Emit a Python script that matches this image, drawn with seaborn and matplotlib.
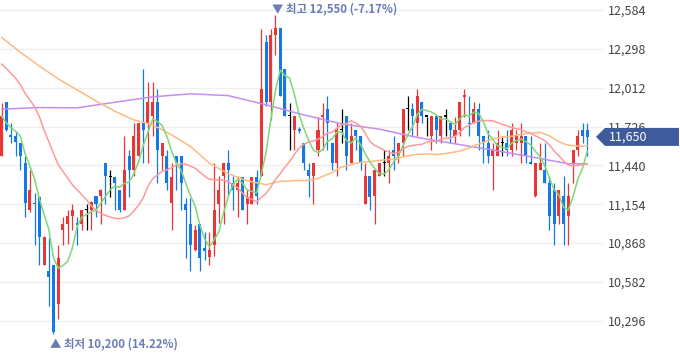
import numpy as np
import pandas as pd
import matplotlib
matplotlib.use("Agg")
import matplotlib.pyplot as plt
import seaborn as sns
from matplotlib.patches import Polygon
from matplotlib.transforms import blended_transform_factory

# ---------------- data ----------------
opens = [11506, 11905, 11665, 11658, 11604, 11457, 11109, 11163, 11207, 10710,
         10661, 10710, 10416, 10962, 11011, 11065, 11016, 11011, 11109, 11114,
         11212, 11212, 11457, 11354, 11354, 11261, 11109, 11506, 11408, 11506,
         11751, 11751, 11805, 11905, 11506, 11506, 11163, 11506, 11506, 11158,
         11011, 10815, 11011, 10832, 10766, 10857, 11158, 11359, 11457, 11310,
         11261, 11354, 11158, 11158, 11354, 11359, 12346, 11905, 12400, 12449,
         12150, 11805, 11702, 11709, 11604, 11408, 11359, 11555, 11800, 11854,
         11604, 11457, 11702, 11805, 11457, 11702, 11653, 11158, 11359, 11212,
         11359, 11457, 11457, 11555, 11506, 11604, 11854, 11854, 11756, 11905,
         11800, 11653, 11805, 11653, 11800, 11751, 11653, 11702, 11947, 11756,
         11756, 11854, 11653, 11604, 11506, 11506, 11604, 11604, 11555, 11604,
         11604, 11653, 11462, 11212, 11408, 11408, 11310, 11261, 11065, 11212,
         11065, 11457, 11555, 11702, 11702]
highs = [11898, 11905, 11751, 11697, 11604, 11506, 11403, 11237, 11207, 10920,
         10906, 10710, 10857, 11058, 11109, 11158, 11058, 11109, 11158, 11175,
         11212, 11265, 11457, 11408, 11354, 11261, 11653, 11555, 11751, 11751,
         12150, 12052, 12052, 12001, 11604, 11555, 11457, 11506, 11506, 11200,
         11200, 11004, 11011, 10952, 10952, 11457, 11359, 11457, 11555, 11359,
         11359, 11354, 11261, 11354, 11408, 12442, 12400, 12442, 12550, 12449,
         12150, 11898, 11805, 11726, 11604, 11457, 11457, 11800, 11898, 11952,
         11604, 11751, 11854, 11805, 11751, 11702, 11653, 11457, 11359, 11408,
         11457, 11555, 11555, 11653, 11604, 11854, 11952, 11898, 12001, 11905,
         11800, 11805, 11805, 11805, 11854, 11751, 11800, 11905, 12001, 11952,
         11905, 11898, 11653, 11702, 11604, 11702, 11653, 11702, 11751, 11702,
         11751, 11653, 11653, 11457, 11604, 11604, 11359, 11310, 11261, 11359,
         11310, 11555, 11702, 11751, 11751]
lows = [11506, 11690, 11604, 11506, 11408, 11058, 11100, 10857, 10710, 10705,
        10408, 10200, 10310, 10857, 10864, 10962, 10857, 10962, 10962, 10962,
        11058, 11011, 11158, 11207, 11109, 11100, 11109, 11207, 11359, 11506,
        11457, 11457, 11653, 11310, 11408, 11261, 10967, 11261, 11109, 10759,
        10661, 10808, 10661, 10747, 10710, 10771, 11016, 11011, 11212, 11109,
        11058, 11109, 11011, 11158, 11158, 11359, 11874, 11776, 12253, 11952,
        11805, 11555, 11555, 11677, 11408, 11207, 11158, 11506, 11555, 11555,
        11408, 11359, 11604, 11408, 11457, 11555, 11408, 11158, 11109, 11011,
        11359, 11359, 11310, 11408, 11457, 11506, 11702, 11653, 11653, 11756,
        11653, 11555, 11604, 11604, 11653, 11604, 11604, 11653, 11800, 11653,
        11756, 11555, 11457, 11457, 11256, 11506, 11506, 11506, 11506, 11555,
        11457, 11457, 11452, 11207, 11408, 11310, 10962, 10857, 11011, 10857,
        10857, 11310, 11506, 11604, 11506]
closes = [11805, 11702, 11648, 11609, 11506, 11163, 11261, 11153, 10911, 10911,
          10619, 10212, 10759, 11011, 11065, 11109, 11001, 11109, 11109, 11168,
          11158, 11261, 11359, 11354, 11310, 11109, 11408, 11408, 11653, 11751,
          11702, 11905, 11905, 11555, 11604, 11310, 11354, 11457, 11310, 11109,
          10857, 10967, 10759, 10808, 10815, 11109, 11261, 11457, 11408, 11261,
          11310, 11109, 11207, 11354, 11212, 12001, 11905, 12400, 12449, 11952,
          11805, 11805, 11805, 11695, 11457, 11359, 11457, 11702, 11810, 11756,
          11457, 11702, 11702, 11506, 11653, 11653, 11457, 11359, 11207, 11408,
          11457, 11457, 11506, 11506, 11604, 11854, 11854, 11805, 11952, 11805,
          11800, 11805, 11702, 11805, 11800, 11702, 11702, 11905, 11957, 11746,
          11854, 11653, 11604, 11506, 11555, 11604, 11604, 11555, 11702, 11653,
          11653, 11506, 11452, 11457, 11457, 11310, 11065, 11011, 11261, 11011,
          11212, 11555, 11658, 11658, 11650]

# MA20 values before enough history is visible (candles 1-19)
ma20_head = [12187, 12155, 12118, 12082, 12033, 11971, 11922, 11873, 11800, 11702,
             11616, 11530, 11445, 11396, 11347, 11298, 11261, 11224, 11187]
# MA60 values read before enough history is visible (candle index, value)
ma60_head_idx = [0, 4, 8, 12, 16, 20, 24, 28, 32, 36, 40, 44, 48, 52, 56]
ma60_head_val = [12383, 12273, 12172, 12077, 11996, 11915, 11839, 11775, 11739,
                 11665, 11580, 11457, 11379, 11327, 11298]
# MA120
ma120_idx = [0, 8, 16, 24, 32, 40, 48, 56, 64, 72, 80, 88, 96, 104, 112, 120, 124]
ma120_val = [11854, 11866, 11864, 11905, 11945, 11967, 11954, 11886, 11812, 11746,
             11707, 11646, 11599, 11553, 11504, 11452, 11452]

ytick_vals = [12584, 12298, 12012, 11726, 11440, 11154, 10868, 10582, 10296]
hi_label = "▼ 최고 12,550 (-7.17%)"
lo_label = "▲ 최저 10,200 (14.22%)"
last_label = "11,650"

# ---------------- style ----------------
sns.set_theme(style="white")
plt.rcParams["font.family"] = ["Noto Sans CJK KR", "DejaVu Sans"]

UP, DOWN, FLAT = "#e83535", "#1479e6", "#000000"

n = len(closes)
xs = np.arange(n)
df = pd.DataFrame({"x": xs, "open": opens, "high": highs, "low": lows, "close": closes})

fig = plt.figure(figsize=(6.8, 3.58), dpi=100)
ax = fig.add_axes([0, 0, 603 / 680, 1])

YMIN, YMAX = 10022, 12658
ax.set_ylim(YMIN, YMAX)
ax.set_xlim(-0.32, 127.33)

# grid
for v in ytick_vals:
    ax.axhline(v, color="#efefef", lw=1.0, zorder=0)

# candles
cols = [UP if c > o else (DOWN if c < o else FLAT) for o, c in zip(opens, closes)]
ax.vlines(df["x"], df["low"], df["high"], colors=cols, linewidth=0.9, zorder=2)
bottoms = np.minimum(df["open"], df["close"])
heights = np.maximum(np.abs(df["close"] - df["open"]), 8)
ax.bar(df["x"], heights, bottom=bottoms, width=0.64, color=cols, linewidth=0, zorder=3)

# moving averages
s = pd.Series(closes, dtype=float)
ma5 = s.rolling(5, min_periods=1).mean()
ma20 = s.rolling(20).mean()
ma20.iloc[:19] = ma20_head
ma60c = s.rolling(60).mean()
ma60_x = list(ma60_head_idx) + list(range(59, n))
ma60_y = list(ma60_head_val) + list(ma60c.iloc[59:])

sns.lineplot(x=ma120_idx, y=ma120_val, ax=ax, color="#c48cf6", linewidth=1.1, zorder=4)
sns.lineplot(x=ma60_x, y=ma60_y, ax=ax, color="#ffba80", linewidth=1.1, zorder=4)
sns.lineplot(x=xs, y=ma20.values, ax=ax, color="#ff9a9a", linewidth=1.1, zorder=4)
sns.lineplot(x=xs, y=ma5.values, ax=ax, color="#7ed877", linewidth=1.1, zorder=4)

# axes styling
for sp in ax.spines.values():
    sp.set_visible(False)
ax.set_xticks([])
ax.yaxis.tick_right()
ax.set_yticks(ytick_vals)
ax.set_yticklabels([f"{v:,}" for v in ytick_vals])
ax.tick_params(axis="y", length=0, pad=3.8, labelsize=9, labelcolor="#444444")
ax.set_xlabel("")
ax.set_ylabel("")

# high / low annotations
ihi = int(np.argmax(highs))
ilo = int(np.argmin(lows))
ax.annotate(hi_label, xy=(ihi, highs[ihi]), xytext=(-3, 6), textcoords="offset pixels",
            ha="left", va="center", fontsize=8.2, color="#6a7db6", fontweight="bold",
            annotation_clip=False)
ax.annotate(lo_label, xy=(ilo, lows[ilo]), xytext=(-3, -10), textcoords="offset pixels",
            ha="left", va="center", fontsize=8.2, color="#6a7db6", fontweight="bold",
            annotation_clip=False)

# last price tag
tr = blended_transform_factory(fig.transFigure, ax.transData)
last = closes[-1]
hh = 9 * (YMAX - YMIN) / 358
W = 680
poly = Polygon([(596 / W, last), (605 / W, last + hh), (679 / W, last + hh),
                (679 / W, last - hh), (605 / W, last - hh)], closed=True,
               transform=tr, facecolor="#3f5b9b", edgecolor="none", zorder=10)
fig.add_artist(poly)
fig.text(609 / W, last, last_label, transform=tr, color="white", fontsize=9,
         ha="left", va="center", zorder=11)

fig.savefig("out.png", dpi=100)
